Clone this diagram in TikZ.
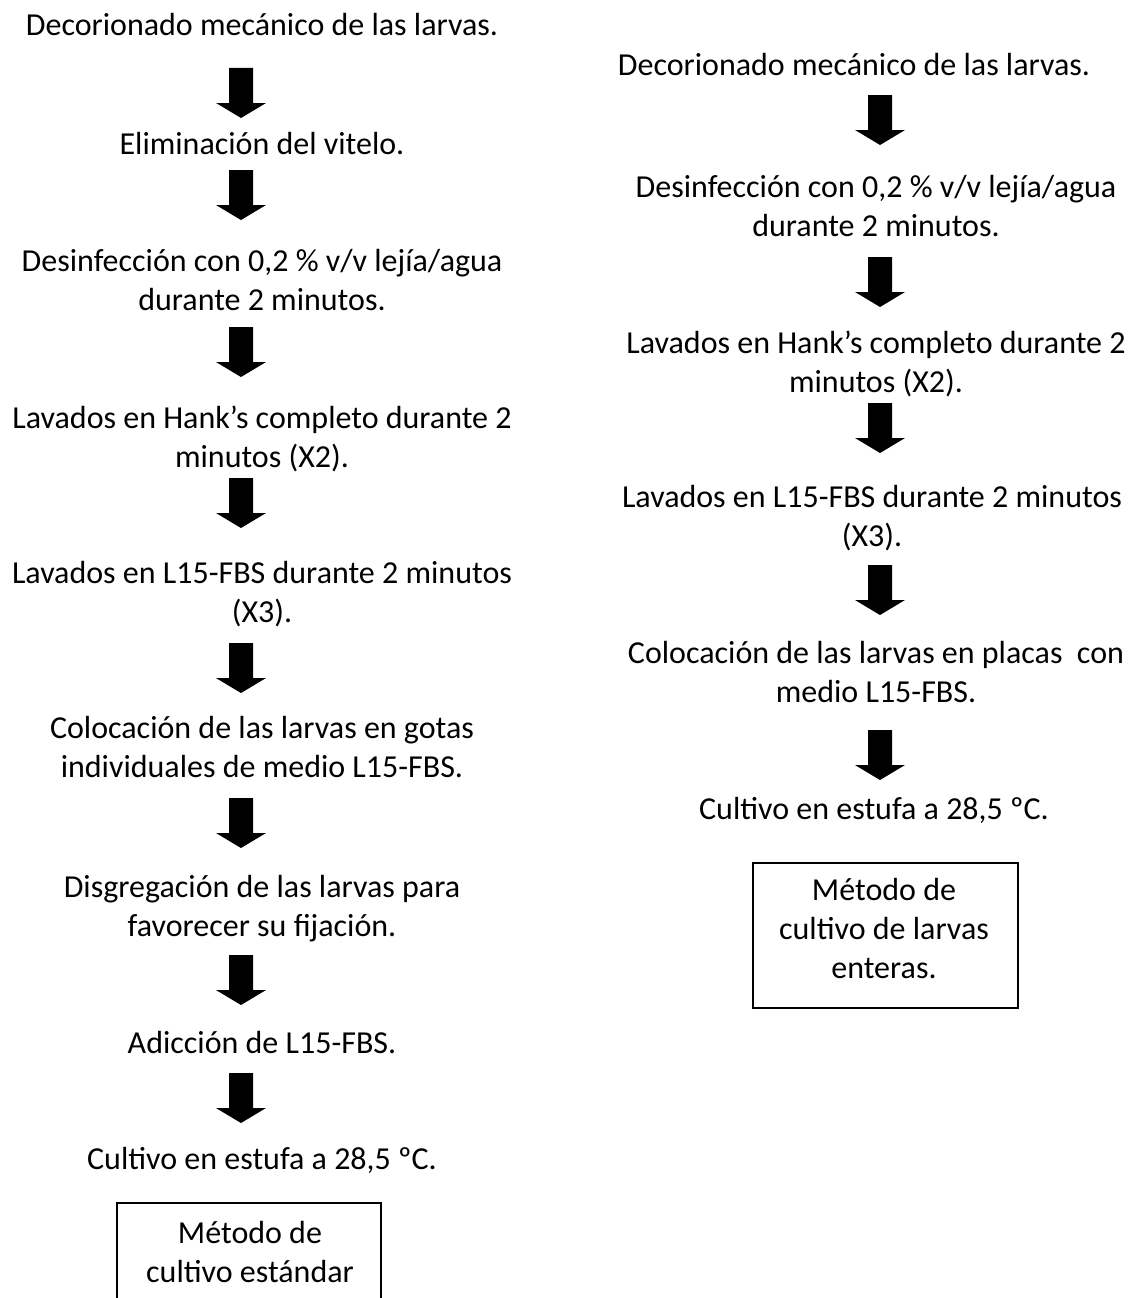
\documentclass[tikz,border=0pt]{standalone}
\usepackage{fontspec}
\setmainfont{Carlito}

\tikzset{
	stagetext/.style={align=center, anchor=base, inner sep=0pt, font=\fontsize{32}{39}\selectfont},
	methodbox/.style={draw, line width=1.5pt, anchor=north west, inner sep=0pt},
	fatarrow/.pic={\fill (-12,0) -- (12,0) -- (12,35) -- (25,35) -- (0,50) -- (-25,35) -- (-12,35) -- cycle;}
}

\begin{document}
\begin{tikzpicture}[x=1pt, y=-1pt]
		\useasboundingbox (0,0) rectangle (1129,1298);
		\clip (0,0) rectangle (1129,1298);
		% metodo estandar (base = last line)
		\node[stagetext] (L1) at (262,36) {Decorionado mecánico de las larvas.};
		\node[stagetext] (L2) at (262,154) {Eliminación del vitelo.};
		\node[stagetext] (L3) at (262,310) {Desinfección con 0,2 \% v/v lejía/agua\\durante 2 minutos.};
		\node[stagetext] (L4) at (262,467) {Lavados en Hank’s completo durante 2\\minutos (X2).};
		\node[stagetext] (L5) at (262,622) {Lavados en L15-FBS durante 2 minutos\\(X3).};
		\node[stagetext] (L6) at (262,777) {Colocación de las larvas en gotas\\individuales de medio L15-FBS.};
		\node[stagetext] (L7) at (262,936) {Disgregación de las larvas para\\favorecer su fijación.};
		\node[stagetext] (L8) at (262,1053) {Adicción de L15-FBS.};
		\node[stagetext] (L9) at (262,1169) {Cultivo en estufa a 28,5 ºC.};
		\node[methodbox, minimum width=264, minimum height=145] (boxL) at (116,1202) {};
		\node[stagetext] (boxLtext) at (250,1282) {Método de\\cultivo estándar};
		\coordinate (LA1) at (241,68);
		\coordinate (LA2) at (241,170);
		\coordinate (LA3) at (241,327);
		\coordinate (LA4) at (241,478);
		\coordinate (LA5) at (241,643);
		\coordinate (LA6) at (241,798);
		\coordinate (LA7) at (241,955);
		\coordinate (LA8) at (241,1073);
		\foreach \a in {LA1,LA2,LA3,LA4,LA5,LA6,LA7,LA8}
			\pic at (\a) {fatarrow};
		% larvas enteras
		\node[stagetext] (R1) at (854,75) {Decorionado mecánico de las larvas.};
		\node[stagetext] (R2) at (876,236) {Desinfección con 0,2 \% v/v lejía/agua\\durante 2 minutos.};
		\node[stagetext] (R3) at (876,392) {Lavados en Hank’s completo durante 2\\minutos (X2).};
		\node[stagetext] (R4) at (872,546) {Lavados en L15-FBS durante 2 minutos\\(X3).};
		\node[stagetext] (R5) at (876,702) {Colocación de las larvas en placas\ \ con\\medio L15-FBS.};
		\node[stagetext] (R6) at (874,819) {Cultivo en estufa a 28,5 ºC.};
		\node[methodbox, minimum width=265, minimum height=145] (boxR) at (752,862) {};
		\node[stagetext] (boxRtext) at (884,978) {Método de\\cultivo de larvas\\enteras.};
		\coordinate (RA1) at (880,95);
		\coordinate (RA2) at (880,257);
		\coordinate (RA3) at (880,403);
		\coordinate (RA4) at (880,565);
		\coordinate (RA5) at (880,730);
		\foreach \a in {RA1,RA2,RA3,RA4,RA5}
			\pic at (\a) {fatarrow};
\end{tikzpicture}
\end{document}
